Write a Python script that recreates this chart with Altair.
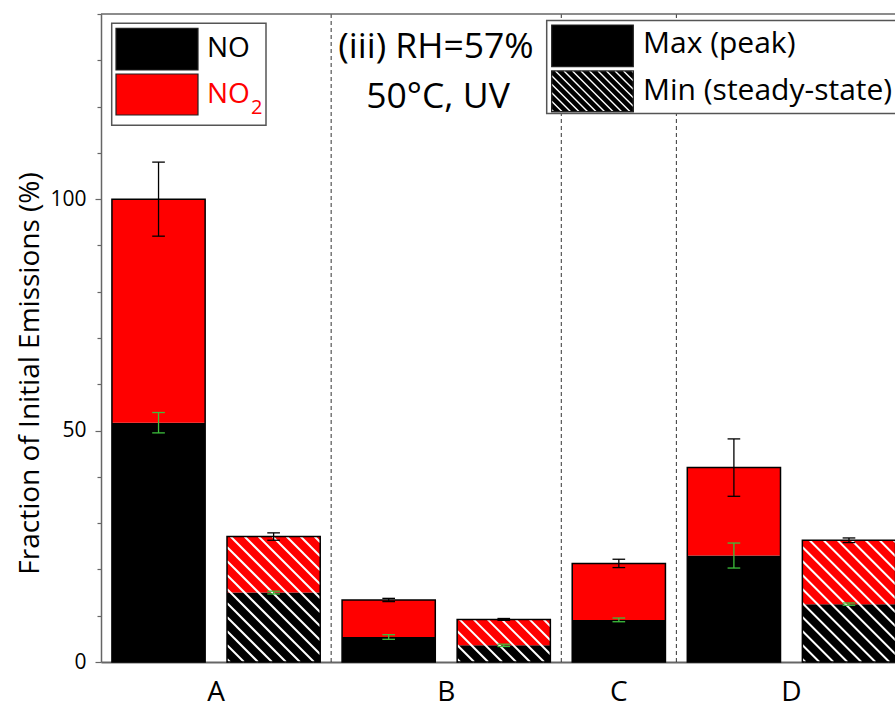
import altair as alt
import pandas as pd

# ---------------- data ----------------
groups = ["A", "A", "B", "B", "C", "D", "D"]
kinds = ["max", "min", "max", "min", "max", "max", "min"]
slots = [0, 1, 2, 3, 4, 5, 6]
no_vals = [51.7, 15.0, 5.4, 3.6, 9.1, 23.0, 12.5]
no_err = [2.2, 0.3, 0.5, 0.25, 0.4, 2.7, 0.25]
total_vals = [100.0, 27.1, 13.4, 9.2, 21.3, 42.0, 26.3]
total_err = [8.0, 0.8, 0.35, 0.2, 0.9, 6.2, 0.5]
group_names = ["A", "B", "C", "D"]
y_title = "Fraction of Initial Emissions (%)"
annot_lines = ["(iii) RH=57%", "50°C, UV"]
legend1_labels = ["NO", "NO", "2"]
legend2_labels = ["Max (peak)", "Min (steady-state)"]

# ---------------- layout / style ----------------
W, H = 794, 648
PAD = {"left": 101, "top": 14, "right": 0, "bottom": 46}
X_DOM = [-0.5, 6.4]
Y_DOM = [0, 140]
PXX = W / (X_DOM[1] - X_DOM[0])
PXY = H / (Y_DOM[1] - Y_DOM[0])
BAR_HALF = 0.405
CAP_HALF = 0.055
FONT = "Open Sans"
RED = "#ff0000"
GREEN = "#3cbf3c"
AXIS_GRAY = "#666666"

xs = alt.Scale(domain=X_DOM, nice=False, zero=False)
ys = alt.Scale(domain=Y_DOM, nice=False)

# bar segments
seg_rows = []
for s, k, nv, tv in zip(slots, kinds, no_vals, total_vals):
    seg_rows.append(dict(x0=s - BAR_HALF, x1=s + BAR_HALF, y0=0, y1=nv, fill="#000000"))
    seg_rows.append(dict(x0=s - BAR_HALF, x1=s + BAR_HALF, y0=nv, y1=tv, fill=RED))
seg_df = pd.DataFrame(seg_rows)

outline_df = pd.DataFrame(dict(x0=[s - BAR_HALF for s in slots],
                               x1=[s + BAR_HALF for s in slots],
                               y1=total_vals))


def hatch(w, h, spacing, phase=0.0):
    """diagonal (down-right) segments in local pixel coords of a w x h box"""
    out = []
    c = -h + phase
    while c < w:
        u0, u1 = max(0.0, c), min(w, h + c)
        if u1 > u0:
            out.append((u0, u0 - c, u1, u1 - c))
        c += spacing
    return out


hatch_rows = []
for s, k, tv in zip(slots, kinds, total_vals):
    if k != "min":
        continue
    xl = s - BAR_HALF
    wpx = 2 * BAR_HALF * PXX
    hpx = tv * PXY
    for u0, v0, u1, v1 in hatch(wpx, hpx, 14.0, phase=3.0):
        hatch_rows.append(dict(x=xl + u0 / PXX, y=tv - v0 / PXY,
                               x2=xl + u1 / PXX, y2=tv - v1 / PXY))
hatch_df = pd.DataFrame(hatch_rows)

# error bars
err_rows = []
cap_rows = []
for s, nv, ne, tv, te in zip(slots, no_vals, no_err, total_vals, total_err):
    for v, e, col in ((tv, te, "#000000"), (nv, ne, GREEN)):
        err_rows.append(dict(x=s, lo=v - e, hi=v + e, col=col))
        cap_rows.append(dict(x=s - CAP_HALF, x2=s + CAP_HALF, y=v - e, col=col))
        cap_rows.append(dict(x=s - CAP_HALF, x2=s + CAP_HALF, y=v + e, col=col))
err_df = pd.DataFrame(err_rows)
cap_df = pd.DataFrame(cap_rows)

# group labels & separators derived from slots
grp_pos = []
for g in group_names:
    ss = [s for s, gg in zip(slots, groups) if gg == g]
    grp_pos.append(sum(ss) / len(ss))
lab_df = pd.DataFrame(dict(x=grp_pos, label=group_names))
sep_pos = []
for g1, g2 in zip(group_names[:-1], group_names[1:]):
    last = max(s for s, gg in zip(slots, groups) if gg == g1)
    first = min(s for s, gg in zip(slots, groups) if gg == g2)
    sep_pos.append((last + first) / 2)
sep_df = pd.DataFrame(dict(x=sep_pos))

# ---------------- layers ----------------
y_axis = alt.Axis(
    values=list(range(0, 141, 10)),
    labelExpr="datum.value % 50 == 0 ? datum.label : ''",
    tickSize={"condition": {"test": "datum.value % 50 == 0", "value": 6}, "value": 4},
    grid=False, domainColor=AXIS_GRAY, tickColor=AXIS_GRAY, domainWidth=1.5, tickWidth=1.2,
    labelFont=FONT, labelFontSize=21, labelColor="#000000", labelPadding=9,
    title=y_title, titleFont=FONT, titleFontSize=28, titleFontWeight="normal",
    titleColor="#000000", titleX=-71, titleY=359, titleAngle=-90,
    titleBaseline="middle", titleAlign="center",
)
x_axis = alt.Axis(labels=False, ticks=False, grid=False, domainColor=AXIS_GRAY,
                  domainWidth=2, title=None)

bars = alt.Chart(seg_df).mark_rect(stroke=None).encode(
    x=alt.X("x0:Q", scale=xs, axis=x_axis), x2="x1",
    y=alt.Y("y0:Q", scale=ys, axis=y_axis), y2="y1",
    fill=alt.Fill("fill:N", scale=None),
)

hatches = alt.Chart(hatch_df).mark_rule(color="#ffffff", strokeWidth=2).encode(
    x=alt.X("x:Q", scale=xs), x2="x2", y=alt.Y("y:Q", scale=ys), y2="y2")

outlines = alt.Chart(outline_df).mark_rect(fillOpacity=0, stroke="#000000", strokeWidth=1.5).encode(
    x=alt.X("x0:Q", scale=xs), x2="x1", y=alt.Y("y1:Q", scale=ys), y2=alt.datum(0))

seps = alt.Chart(sep_df).mark_rule(color="#333333", strokeWidth=1, strokeDash=[4, 3]).encode(
    x=alt.X("x:Q", scale=xs), y=alt.value(0), y2=alt.value(H))

err_lines = alt.Chart(err_df).mark_rule(strokeWidth=1.3).encode(
    x=alt.X("x:Q", scale=xs), y=alt.Y("lo:Q", scale=ys), y2="hi",
    color=alt.Color("col:N", scale=None))
err_caps = alt.Chart(cap_df).mark_rule(strokeWidth=1.3).encode(
    x=alt.X("x:Q", scale=xs), x2="x2", y=alt.Y("y:Q", scale=ys),
    color=alt.Color("col:N", scale=None))

top_frame = alt.Chart(pd.DataFrame({"a": [0]})).mark_rule(color=AXIS_GRAY, strokeWidth=1.5).encode(
    x=alt.value(0), x2=alt.value(W), y=alt.value(0))

group_text = alt.Chart(lab_df).mark_text(font=FONT, fontSize=28, color="#000000",
                                          baseline="middle", align="center").encode(
    x=alt.X("x:Q", scale=xs), y=alt.value(H + 31), text="label:N")

# annotation (pixel layout)
annot_df = pd.DataFrame(dict(text=annot_lines, px=[335, 337], py=[33, 83]))
annot = alt.Chart(annot_df).mark_text(font=FONT, fontSize=35.5, color="#000000",
                                       baseline="middle", align="center").encode(
    x=alt.X("px:Q", scale=None), y=alt.Y("py:Q", scale=None), text="text:N")

# legend 1
leg1_box = pd.DataFrame(dict(x=[10.7], x2=[165], y=[9.3], y2=[111.3]))
leg1_sw = pd.DataFrame(dict(x=[15, 15], x2=[97, 97], y=[14.3, 60], y2=[56, 101],
                            fill=["#000000", RED]))
leg1_txt = pd.DataFrame(dict(text=legend1_labels, px=[106, 106, 150], py=[35, 81, 94],
                             col=["#000000", RED, RED], fs=[28, 28, 20]))
# legend 2
leg2_box = pd.DataFrame(dict(x=[445.7], x2=[W + 20], y=[6.5], y2=[99.5]))
leg2_sw = pd.DataFrame(dict(x=[450.7, 450.7], x2=[532.3, 532.3], y=[11, 57], y2=[52.7, 97.7],
                            fill=["#000000", "#000000"]))
leg2_txt = pd.DataFrame(dict(text=legend2_labels, px=[542, 542], py=[30, 76.5],
                             col=["#000000", "#000000"], fs=[30, 30]))
hx0, hy0, hw, hh = 450.7, 57, 532.3 - 450.7, 97.7 - 57
leg2_hatch = pd.DataFrame([dict(x=hx0 + a, y=hy0 + b, x2=hx0 + c, y2=hy0 + d)
                           for a, b, c, d in hatch(hw, hh, 8.5, phase=2.0)])


def px_rects(df, **kw):
    enc = dict(x=alt.X("x:Q", scale=None), x2="x2", y=alt.Y("y:Q", scale=None), y2="y2")
    if "fill" in df.columns:
        enc["fill"] = alt.Fill("fill:N", scale=None)
    return alt.Chart(df).mark_rect(**kw).encode(**enc)


def px_text(df):
    return alt.Chart(df).mark_text(font=FONT, baseline="middle", align="left").encode(
        x=alt.X("px:Q", scale=None), y=alt.Y("py:Q", scale=None), text="text:N",
        color=alt.Color("col:N", scale=None), size=alt.Size("fs:Q", scale=None))


legend_layers = [
    px_rects(leg1_box, fill="#ffffff", stroke="#555555", strokeWidth=1.5),
    px_rects(leg1_sw, stroke="#222222", strokeWidth=1.2),
    px_text(leg1_txt),
    px_rects(leg2_box, fill="#ffffff", stroke="#555555", strokeWidth=1.5),
    px_rects(leg2_sw, stroke="#222222", strokeWidth=1.2),
    alt.Chart(leg2_hatch).mark_rule(color="#ffffff", strokeWidth=1.4).encode(
        x=alt.X("x:Q", scale=None), x2="x2", y=alt.Y("y:Q", scale=None), y2="y2"),
    px_rects(leg2_sw.iloc[[1]], fillOpacity=0, stroke="#222222", strokeWidth=1.2),
    px_text(leg2_txt),
]

chart = alt.layer(
    bars, hatches, outlines, seps, err_lines, err_caps, top_frame, group_text, annot,
    *legend_layers,
).properties(
    width=W, height=H, padding=PAD,
    autosize=alt.AutoSizeParams(type="none"),
    background="#ffffff",
).configure_view(stroke=None)

chart.save("out.html", embed_options={"renderer": "svg", "actions": False})
